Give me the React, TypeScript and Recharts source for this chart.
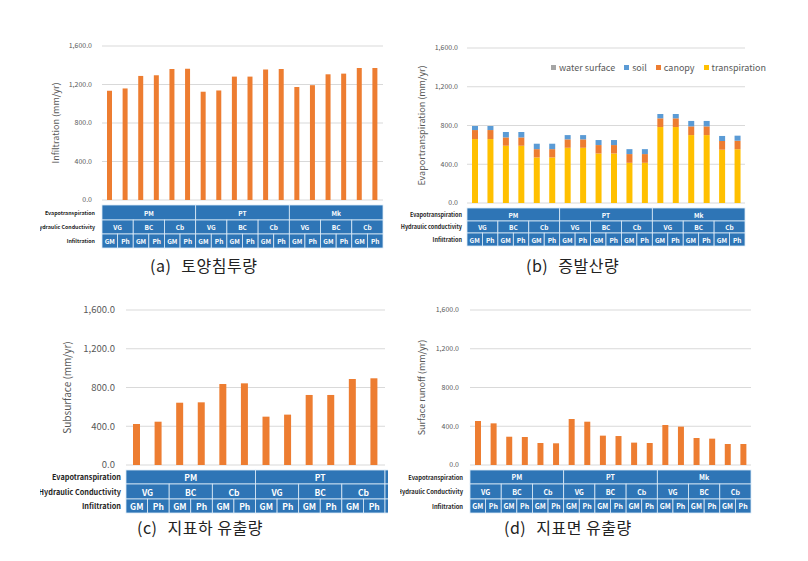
import React from "react";
import { BarChart, Bar, XAxis, YAxis, CartesianGrid, Legend } from "recharts";

const ET = ["PM", "PT", "Mk"];
const HC = ["VG", "BC", "Cb"];
const INF = ["GM", "Ph"];
const ROW_LABELS = ["Evapotranspiration", "Hydraulic Conductivity", "Infiltration"];
const ROW_LABELS_B = ["Evapotranspiration", "Hydraulic conductivity", "Infiltration"];
const Y_TICKS = [0, 400, 800, 1200, 1600];
const LEGEND_ORDER = ["water surface", "soil", "canopy", "transpiration"];

// (a) infiltration, mm/yr
const infiltration = [1135, 1159, 1289, 1296, 1361, 1364, 1125, 1138, 1282, 1282, 1357, 1361, 1173, 1193, 1306, 1313, 1371, 1371];
// (b) evapotranspiration components, mm/yr
const transpiration = [660, 660, 591, 591, 470, 470, 570, 570, 511, 511, 415, 415, 784, 784, 701, 701, 550, 555];
const canopy = [93, 93, 86, 86, 86, 86, 87, 87, 87, 87, 90, 90, 90, 90, 90, 90, 90, 88];
const soil = [42, 42, 56, 56, 56, 56, 44, 44, 52, 52, 51, 51, 45, 45, 56, 56, 52, 52];
const waterSurface = [0, 0, 0, 0, 0, 0, 0, 0, 0, 0, 0, 0, 0, 0, 0, 0, 0, 0];
// (c) subsurface flow (only PM and PT visible)
const subsurface = [423, 447, 643, 647, 836, 843, 499, 520, 723, 723, 888, 895];
// (d) surface runoff
const surfaceRunoff = [454, 430, 292, 289, 227, 224, 475, 447, 303, 299, 231, 227, 413, 396, 279, 272, 217, 217];

const ORANGE = "#ED7D31";
const YELLOW = "#FFC000";
const BLUE = "#5B9BD5";
const GRAY = "#A5A5A5";
const CELL_BLUE = "#2E75B6";
const CELL_LINE = "#DDEBF7";
const TXT = "#595959";
const FONT = "'Noto Sans CJK KR', 'Noto Sans', sans-serif";

const rowsFor = (n: number) =>
  Array.from({ length: n }, (_, i) => ({
    key: i,
    et: ET[Math.floor(i / 6)],
    hc: HC[Math.floor(i / 2) % 3],
    inf: INF[i % 2],
  }));

const dataA = rowsFor(18).map((r, i) => ({ ...r, infiltration: infiltration[i] }));
const dataB = rowsFor(18).map((r, i) => ({
  ...r,
  transpiration: transpiration[i],
  canopy: canopy[i],
  soil: soil[i],
  water: waterSurface[i],
}));
const dataC = rowsFor(12).map((r, i) => ({ ...r, subsurface: subsurface[i] }));
const dataD = rowsFor(18).map((r, i) => ({ ...r, runoff: surfaceRunoff[i] }));

const fmt = (v: number) =>
  v.toLocaleString("en-US", { minimumFractionDigits: 1, maximumFractionDigits: 1 });

const TableTick = (props: any) => {
  const { x, y, index, cfg } = props;
  const { band, rows, labels } = cfg;
  const left = x - band / 2;
  const out: any[] = [];
  const cell = (k: string, x0: number, w: number, row: number[], text: string) => (
    <g key={k}>
      <rect x={x0} y={y + row[0]} width={w} height={row[1] - row[0]} fill={CELL_BLUE} stroke={CELL_LINE} strokeWidth={0.8} />
      <text
        x={x0 + w / 2}
        y={y + (row[0] + row[1]) / 2}
        textAnchor="middle"
        dominantBaseline="central"
        fill="#fff"
        fontSize={cfg.cellFont}
        fontWeight="bold"
        fontFamily={FONT}
      >
        {text}
      </text>
    </g>
  );
  if (index % 6 === 0) out.push(cell("et", left, band * 6, rows[0], ET[index / 6]));
  if (index % 2 === 0) out.push(cell("hc", left, band * 2, rows[1], HC[(index / 2) % 3]));
  out.push(cell("inf", left, band, rows[2], INF[index % 2]));
  if (cfg.sliver && index === cfg.n - 1) {
    rows.forEach((row: number[], k: number) => {
      out.push(
        <rect key={"s" + k} x={left + band} y={y + row[0]} width={20} height={row[1] - row[0]} fill={CELL_BLUE} stroke={CELL_LINE} strokeWidth={0.8} />
      );
    });
  }
  if (index === 0) {
    labels.forEach((t: string, k: number) => {
      out.push(
        <text
          key={"l" + k}
          x={cfg.labelX}
          y={y + (rows[k][0] + rows[k][1]) / 2}
          textAnchor="end"
          dominantBaseline="central"
          fill="#1f1f1f"
          fontSize={cfg.labelFont}
          fontWeight="bold"
          fontFamily={FONT}
        >
          {t}
        </text>
      );
    });
  }
  return <g>{out}</g>;
};

const LegendContent = (props: any) => {
  const items = [...(props.payload || [])].sort(
    (a: any, b: any) => LEGEND_ORDER.indexOf(a.value) - LEGEND_ORDER.indexOf(b.value)
  );
  return (
    <div style={{ display: "flex", gap: 9, fontSize: 9, color: TXT, fontFamily: FONT, whiteSpace: "nowrap" }}>
      {items.map((it: any) => (
        <span key={it.value} style={{ display: "flex", alignItems: "center" }}>
          <span style={{ width: 5, height: 5, background: it.color, marginRight: 3, display: "inline-block" }} />
          {it.value}
        </span>
      ))}
    </div>
  );
};

const Caption = ({ left, top, tag, text }: any) => (
  <div
    style={{
      position: "absolute",
      left,
      top,
      fontFamily: FONT,
      fontSize: 16,
      color: "#222",
      whiteSpace: "nowrap",
      letterSpacing: 0.5,
    }}
  >
    <span>{tag}</span>
    <span style={{ marginLeft: 10 }}>{text}</span>
  </div>
);

const yAxisProps = (width: number, fontSize: number, tickMargin: number, title: string, titleX: number, titleSize: number) => ({
  width,
  domain: [0, 1600] as any,
  ticks: Y_TICKS,
  interval: 0 as any,
  axisLine: false,
  tickLine: false,
  tickMargin,
  tickSize: 0,
  tickFormatter: fmt,
  tick: { fontSize, fill: TXT, fontFamily: FONT },
  label: {
    value: title,
    angle: -90,
    position: "insideLeft" as any,
    offset: titleX,
    style: { textAnchor: "middle", fontSize: titleSize, fill: TXT, fontFamily: FONT },
  },
});

export default function App() {
  const cfgA = { n: 18, band: 281 / 18, rows: [[5, 20], [20, 34], [34, 48]], labels: ROW_LABELS, labelX: 55, labelFont: 5.3, cellFont: 6.5 };
  const cfgB = { n: 18, band: 278 / 18, rows: [[5, 18], [18, 30], [30, 43]], labels: ROW_LABELS_B, labelX: 62, labelFont: 5.5, cellFont: 6.5 };
  const cfgC = { n: 12, band: 259 / 12, rows: [[5, 19], [19, 34], [34, 48]], labels: ROW_LABELS, labelX: 81, labelFont: 7.3, cellFont: 8.5, sliver: true };
  const cfgD = { n: 18, band: 281 / 18, rows: [[5, 19], [19, 34], [34, 48]], labels: ROW_LABELS, labelX: 63, labelFont: 5.8, cellFont: 7 };

  const xAxis = (cfg: any, height: number) => (
    <XAxis
      dataKey="key"
      interval={0}
      height={height}
      axisLine={false}
      tickLine={false}
      tickSize={0}
      tickMargin={0}
      tick={(p: any) => <TableTick {...p} cfg={cfg} />}
    />
  );

  return (
    <div style={{ position: "absolute", left: 0, top: 0, width: 808, height: 561, background: "#fff", overflow: "hidden" }}>
      <div style={{ position: "absolute", left: 40, top: 36 }}>
        <BarChart width={350} height={216} data={dataA} margin={{ top: 10, right: 7, left: 0, bottom: 0 }}>
          <CartesianGrid vertical={false} stroke="#D9D9D9" />
          {xAxis(cfgA, 52)}
          <YAxis {...yAxisProps(62, 7, 10, "Infiltration (mm/yr)", 16, 9)} />
          <Bar dataKey="infiltration" fill={ORANGE} barSize={5} isAnimationActive={false} />
        </BarChart>
      </div>

      <div style={{ position: "absolute", left: 400, top: 36 }}>
        <BarChart width={355} height={216} data={dataB} margin={{ top: 12, right: 10, left: 0, bottom: 0 }}>
          <CartesianGrid vertical={false} stroke="#D9D9D9" />
          {xAxis(cfgB, 49)}
          <YAxis {...yAxisProps(67, 7, 9, "Evaportranspiration (mm/yr)", 22, 9)} />
          <Legend
            layout="horizontal"
            verticalAlign="middle"
            align="center"
            content={<LegendContent />}
            wrapperStyle={{ left: 151, top: 25, width: "auto", height: "auto" }}
          />
          <Bar dataKey="transpiration" name="transpiration" stackId="et" fill={YELLOW} barSize={6} isAnimationActive={false} />
          <Bar dataKey="canopy" name="canopy" stackId="et" fill={ORANGE} barSize={6} isAnimationActive={false} />
          <Bar dataKey="soil" name="soil" stackId="et" fill={BLUE} barSize={6} isAnimationActive={false} />
          <Bar dataKey="water" name="water surface" stackId="et" fill={GRAY} barSize={6} isAnimationActive={false} />
        </BarChart>
      </div>

      <div style={{ position: "absolute", left: 40, top: 296 }}>
        <BarChart width={348} height={220} data={dataC} margin={{ top: 14, right: 3, left: 0, bottom: 0 }}>
          <CartesianGrid vertical={false} stroke="#D9D9D9" />
          {xAxis(cfgC, 51)}
          <YAxis {...yAxisProps(86, 9.5, 11, "Subsurface (mm/yr)", 27, 10)} />
          <Bar dataKey="subsurface" fill={ORANGE} barSize={7} isAnimationActive={false} />
        </BarChart>
      </div>

      <div style={{ position: "absolute", left: 400, top: 296 }}>
        <BarChart width={356} height={220} data={dataD} margin={{ top: 14, right: 5, left: 0, bottom: 0 }}>
          <CartesianGrid vertical={false} stroke="#D9D9D9" />
          {xAxis(cfgD, 51)}
          <YAxis {...yAxisProps(70, 7, 11, "Surface runoff (mm/yr)", 22, 9)} />
          <Bar dataKey="runoff" fill={ORANGE} barSize={6} isAnimationActive={false} />
        </BarChart>
      </div>

      <Caption left={150} top={253} tag="(a)" text="토양침투량" />
      <Caption left={526} top={253} tag="(b)" text="증발산량" />
      <Caption left={137} top={515} tag="(c)" text="지표하 유출량" />
      <Caption left={504} top={515} tag="(d)" text="지표면 유출량" />
    </div>
  );
}
